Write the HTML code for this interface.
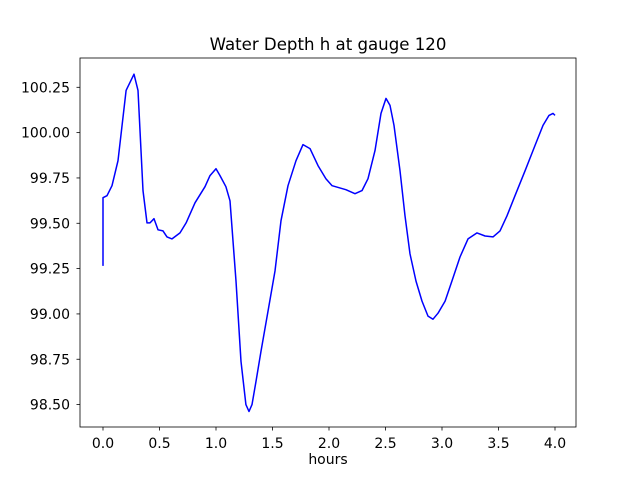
<!DOCTYPE html>
<html><head><meta charset="utf-8"><style>
body{margin:0;background:#fff;}
svg{font-family:"DejaVu Sans","Liberation Sans",sans-serif;}
</style></head><body>
<svg id="chart" width="640" height="480" viewBox="0 0 640 480">
<rect width="640" height="480" fill="#fff"/>
<g id="axes"></g>
</svg>
<script>
const hours=[0,0,0.035,0.080,0.133,0.204,0.274,0.310,0.354,0.389,0.416,0.451,0.487,0.531,0.566,0.611,0.681,0.735,0.814,0.903,0.947,1.0,1.035,1.088,1.124,1.177,1.221,1.265,1.292,1.319,1.354,1.398,1.460,1.522,1.575,1.637,1.708,1.770,1.832,1.903,1.973,2.027,2.150,2.230,2.292,2.345,2.407,2.460,2.504,2.540,2.575,2.628,2.673,2.717,2.770,2.823,2.876,2.920,2.965,3.027,3.088,3.159,3.230,3.310,3.381,3.451,3.513,3.575,3.646,3.735,3.823,3.894,3.947,3.982,4.0];
const depth=[99.265,99.641,99.652,99.707,99.845,100.233,100.322,100.233,99.680,99.502,99.502,99.525,99.464,99.458,99.425,99.414,99.447,99.502,99.613,99.702,99.763,99.801,99.763,99.702,99.624,99.181,98.738,98.500,98.462,98.500,98.628,98.794,99.015,99.237,99.514,99.707,99.845,99.934,99.912,99.818,99.746,99.707,99.685,99.663,99.680,99.746,99.901,100.106,100.189,100.150,100.040,99.790,99.541,99.331,99.181,99.071,98.988,98.971,99.004,99.071,99.181,99.314,99.414,99.447,99.430,99.425,99.458,99.541,99.652,99.790,99.929,100.040,100.095,100.106,100.095];
const xTicks=[0,0.5,1,1.5,2,2.5,3,3.5,4];
const xTickLabels=["0.0","0.5","1.0","1.5","2.0","2.5","3.0","3.5","4.0"];
const yTicks=[98.5,98.75,99,99.25,99.5,99.75,100,100.25];
const yTickLabels=["98.50","98.75","99.00","99.25","99.50","99.75","100.00","100.25"];

const L=80,R=576,T=58,B=427;
const xs=h=>103+(h-0)*113;
const ys=v=>87.3+(100.25-v)*181.3;
const NS="http://www.w3.org/2000/svg";
const g=document.getElementById('axes');
function mk(t,a){const e=document.createElementNS(NS,t);for(const k in a)e.setAttribute(k,a[k]);g.appendChild(e);return e;}

let d=hours.map((h,i)=>(i?'L':'M')+xs(h).toFixed(1)+','+ys(depth[i]).toFixed(1)).join('');
const line=mk('path',{d:d,fill:'none',stroke:'#0000ff','stroke-width':1.5,'stroke-linejoin':'round'});



xTicks.forEach((t,i)=>{
  const x=xs(t);
  const tk=mk('line',{x1:x,x2:x,y1:B,y2:B+3.5,stroke:'#000','stroke-width':0.8});
  
  
  const tx=mk('text',{x:x,y:448,'text-anchor':'middle','font-size':14,fill:'#000'});
  tx.textContent=xTickLabels[i];
  
  
});
yTicks.forEach((t,i)=>{
  const y=ys(t);
  const tk=mk('line',{x1:L-3.5,x2:L,y1:y,y2:y,stroke:'#000','stroke-width':0.8});
  
  
  const tx=mk('text',{x:L-10,y:y+5,'text-anchor':'end','font-size':14,fill:'#000'});
  tx.textContent=yTickLabels[i];
  
  
});
const fr=mk('rect',{x:L,y:T,width:R-L,height:B-T,fill:'none',stroke:'#000','stroke-width':0.8});


const ti=mk('text',{x:(L+R)/2,y:50,'text-anchor':'middle','font-size':16.6,fill:'#000'});
ti.textContent='Water Depth h at gauge 120';


const xl=mk('text',{x:(L+R)/2,y:464,'text-anchor':'middle','font-size':14,fill:'#000'});
xl.textContent='hours';


</script>
</body></html>
